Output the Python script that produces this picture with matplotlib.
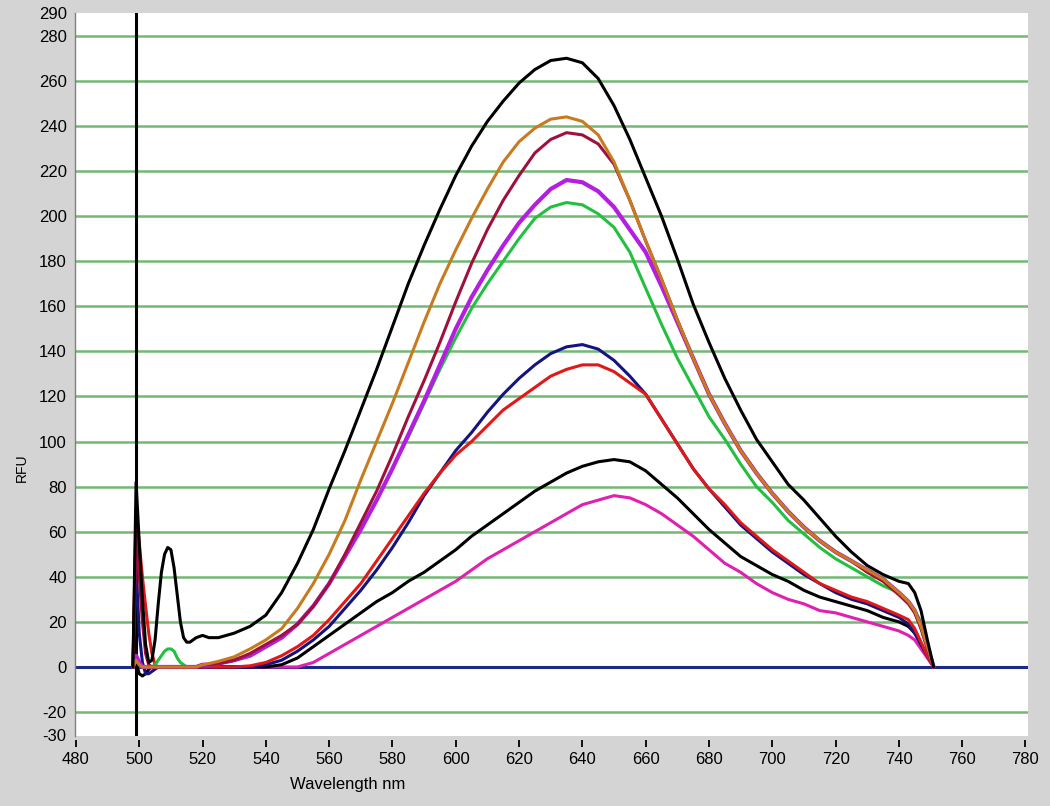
import matplotlib
matplotlib.use("Agg")
import matplotlib.pyplot as plt

wavelength = [498, 499, 500, 501, 502, 503, 504, 505, 506, 507, 508, 509, 510, 511, 512,
              513, 514, 515, 516, 518, 520, 522, 525, 530, 535, 540, 545, 550, 555, 560,
              565, 570, 575, 580, 585, 590, 595, 600, 605, 610, 615, 620, 625, 630, 635,
              640, 645, 650, 655, 660, 665, 670, 675, 680, 685, 690, 695, 700, 705, 710,
              715, 720, 725, 730, 735, 740, 743, 745, 747, 749, 751]

black1 = [0, 82, 55, 30, 10, 2, 3, 12, 28, 42, 50, 53, 52, 44, 32,
          20, 13, 11, 11, 13, 14, 13, 13, 15, 18, 23, 33, 46, 61, 79,
          96, 114, 132, 151, 170, 187, 203, 218, 231, 242, 251, 259, 265, 269, 270,
          268, 261, 249, 234, 217, 200, 181, 161, 144, 128, 114, 101, 91, 81, 74,
          66, 58, 51, 45, 41, 38, 37, 33, 25, 12, 0]

orange = [0, 3, 1, 0, 0, 0, 0, 0, 0, 0, 0, 0, 0, 0, 0,
          0, 0, 0, 0, 0, 1, 1.5, 2.5, 4.5, 8, 12, 17, 26, 37, 50,
          65, 83, 100, 117, 135, 153, 170, 185, 199, 212, 224, 233, 239, 243, 244,
          242, 236, 224, 207, 189, 172, 154, 137, 121, 108, 96, 86, 77, 69, 62,
          56, 51, 47, 43, 39, 33, 29, 25, 18, 9, 0]

crimson = [0, 60, 40, 20, 6, 1, 0, 0, 0, 0, 0, 0, 0, 0, 0,
           0, 0, 0, 0, 0, 1, 1, 1.5, 3, 6, 10, 14, 19, 27, 37,
           50, 64, 78, 94, 111, 127, 144, 162, 179, 194, 207, 218, 228, 234, 237,
           236, 232, 223, 207, 189, 172, 154, 137, 121, 108, 96, 86, 77, 69, 62,
           56, 51, 47, 42, 38, 32, 28, 24, 17, 8, 0]

purple = [0, 5, 2, 0, 0, 0, 0, 0, 0, 0, 0, 0, 0, 0, 0,
          0, 0, 0, 0, 0, 1, 1, 1.5, 3, 5, 9, 13, 19, 27, 37,
          49, 61, 74, 88, 103, 118, 134, 150, 164, 176, 187, 197, 205, 212, 216,
          215, 211, 204, 194, 184, 169, 153, 137, 121, 108, 96, 86, 77, 69, 62,
          56, 51, 47, 43, 39, 33, 29, 25, 18, 9, 0]

green = [0, 3, 1, 0, 0, 0, 0, 1, 3, 5, 7, 8, 8, 7, 4,
         2, 1, 0, 0, 0, 1, 1, 1.5, 3, 5, 9, 13, 19, 27, 37,
         49, 61, 74, 88, 102, 117, 132, 146, 159, 170, 180, 190, 199, 204, 206,
         205, 201, 195, 184, 168, 152, 137, 124, 111, 101, 90, 80, 73, 65, 59,
         53, 48, 44, 40, 36, 33, 29, 25, 20, 10, 0]

blue = [0, 45, 15, 2, -3, -3, -2, -1, 0, 0, 0, 0, 0, 0, 0,
        0, 0, 0, 0, 0, 0, 0, 0, 0, 0, 1, 3, 7, 12, 18,
        26, 34, 43, 53, 64, 76, 86, 96, 104, 113, 121, 128, 134, 139, 142,
        143, 141, 136, 129, 121, 110, 99, 88, 79, 71, 63, 57, 51, 46, 41,
        37, 33, 30, 28, 25, 22, 19, 15, 10, 5, 0]

red = [0, 70, 55, 40, 27, 15, 6, 1, 0, 0, 0, 0, 0, 0, 0,
       0, 0, 0, 0, 0, 0, 0, 0, 0, 0.5, 2, 5, 9, 14, 21,
       29, 37, 47, 57, 67, 77, 86, 94, 100, 107, 114, 119, 124, 129, 132,
       134, 134, 131, 126, 121, 110, 99, 88, 79, 72, 64, 58, 52, 47, 42,
       37, 34, 31, 29, 26, 23, 21, 17, 11, 5, 0]

black2 = [0, 2, -3, -4, -3, -1, 0, 0, 0, 0, 0, 0, 0, 0, 0,
          0, 0, 0, 0, 0, 0, 0, 0, 0, 0, 0, 1, 4, 9, 14,
          19, 24, 29, 33, 38, 42, 47, 52, 58, 63, 68, 73, 78, 82, 86,
          89, 91, 92, 91, 87, 81, 75, 68, 61, 55, 49, 45, 41, 38, 34,
          31, 29, 27, 25, 22, 20, 18, 15, 10, 5, 0]

magenta = [0, 2, 0, 0, 0, 0, 0, 0, 0, 0, 0, 0, 0, 0, 0,
           0, 0, 0, 0, 0, 0, 0, 0, 0, 0, 0, 0, 0, 2, 6,
           10, 14, 18, 22, 26, 30, 34, 38, 43, 48, 52, 56, 60, 64, 68,
           72, 74, 76, 75, 72, 68, 63, 58, 52, 46, 42, 37, 33, 30, 28,
           25, 24, 22, 20, 18, 16, 14, 12, 8, 4, 0]

marker_wavelength = 499
baseline_value = 0

y_ticks = [-30, -20, 0, 20, 40, 60, 80, 100, 120, 140, 160, 180, 200, 220, 240, 260, 280, 290]
grid_levels = [-20, 20, 40, 60, 80, 100, 120, 140, 160, 180, 200, 220, 240, 260, 280]
x_ticks = [480, 500, 520, 540, 560, 580, 600, 620, 640, 660, 680, 700, 720, 740, 760, 780]

series = [
    (magenta, "#e020b0", 2.2),
    (black2, "#000000", 2.2),
    (blue, "#14147f", 2.2),
    (red, "#e01818", 2.2),
    (green, "#22c040", 2.2),
    (purple, "#b41ee0", 3.0),
    (crimson, "#a0103c", 2.2),
    (orange, "#c87a1e", 2.2),
    (black1, "#000000", 2.2),
]

plt.rcParams['font.family'] = ['Liberation Sans', 'DejaVu Sans']
plt.rcParams['axes.unicode_minus'] = False

fig = plt.figure(figsize=(10.5, 8.06), dpi=100, facecolor="#d4d4d4")
ax = fig.add_axes([75 / 1050, 1 - 735.5 / 806, 953 / 1050, 723 / 806])
ax.set_facecolor("white")

for lvl in grid_levels:
    ax.axhline(lvl, color="#72b872", lw=1.8, zorder=1)
ax.axhline(baseline_value, color="#1a2a88", lw=2.2, zorder=2)
ax.axvline(marker_wavelength, color="black", lw=2.2, zorder=3)

for vals, col, lw in series:
    ax.plot(wavelength, vals, color=col, lw=lw, zorder=4,
            solid_joinstyle="round", solid_capstyle="round")

ax.set_xlim(479.7, 780.8)
ax.set_ylim(-30.4, 290.3)
ax.set_yticks(y_ticks)
ax.set_xticks(x_ticks)
ax.tick_params(axis="y", length=0, pad=6, labelsize=12, colors="black")
ax.tick_params(axis="x", length=5, width=1.3, pad=4, labelsize=12, colors="black", direction="out")

for s in ["top", "right"]:
    ax.spines[s].set_visible(False)
ax.spines["bottom"].set_position(("outward", 3))
ax.spines["bottom"].set_visible(False)
ax.spines["left"].set_color("#808080")
ax.spines["left"].set_linewidth(1.0)

fig.text(348 / 1050, 1 - 784 / 806, "Wavelength nm", ha="center", va="center", fontsize=12)
fig.text(22 / 1050, 1 - 468 / 806, "RFU", ha="center", va="center", rotation=90, fontsize=10)

fig.savefig("out.png", dpi=100, facecolor=fig.get_facecolor())
